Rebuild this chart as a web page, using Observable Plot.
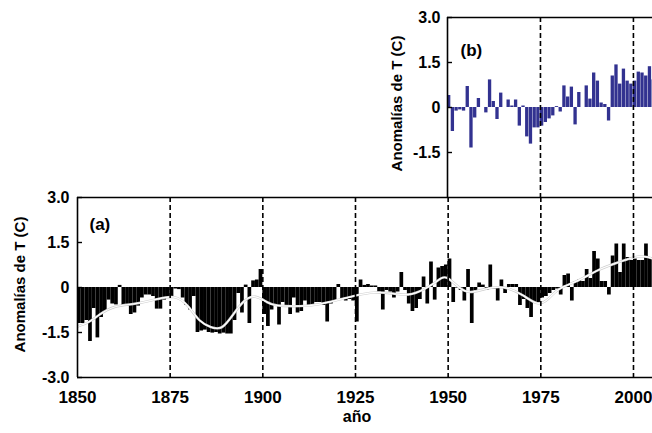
<!DOCTYPE html>
<html><head><meta charset="utf-8">
<script src="https://cdn.jsdelivr.net/npm/d3@7"></script>
<script src="https://cdn.jsdelivr.net/npm/@observablehq/plot@0.6"></script>
<style>
html,body{margin:0;padding:0;background:#fff;overflow:hidden;}
#chart{position:relative;width:652px;height:433px;}
#chart svg{position:absolute;left:0;top:0;}
</style></head><body><div id="chart"></div>
<script>
// Panel (a): annual anomalies 1850-2005
const startA = 1850;
const anomA = [
  -1.2, -1.2, -1.1, -1.8, -0.7, -1.68, -1.0, -0.8, -0.42, -0.55,
  -0.58, 0.07, -0.6, -0.62, -0.9, -0.85, -0.62, -0.35, -0.25, -0.25,
  -0.3, -0.72, -0.72, -0.42, -0.35, -0.3, -0.05, -0.07, -0.35, -0.6,
  -0.75, -0.3, -1.5, -1.45, -1.42, -1.5, -1.52, -1.5, -1.55, -1.52,
  -1.55, -1.55, -1.1, -0.2, -0.85, 0.08, -1.2, 0.22, 0.25, 0.6,
  -0.9, -1.3, -0.75, -0.6, -1.25, -0.5, -0.6, -0.9, -0.35, -0.85,
  -0.8, -0.45, -0.6, -0.6, -0.5, -0.5, -0.6, -1.15, -0.55, -0.45,
  0.1, -0.4, -0.45, -0.4, -0.45, -1.15, 0.25, 0.07, 0.1, 0.05,
  0.05, -0.15, -0.75, -0.1, -0.15, -0.35, -0.15, 0.5, -0.1, -0.55,
  -0.8, -0.7, -0.4, 0.35, -0.55, 0.85, -0.42, 0.65, 0.7, 0.75,
  0.95, -0.5, -0.02, -0.1, -0.45, 0.6, -1.2, -0.1, 0.15, 0.08,
  -0.1, 0.75, -0.05, -0.45, 0.25, -0.2, 0.1, 0.1, 0.1, -0.6,
  -0.4, -0.7, -1.0, -0.5, -0.5, -0.35, -0.3, -0.2, -0.1, -0.05,
  -0.25, 0.4, 0.45, -0.45, 0.2, 0.25, 0.2, 0.6, 0.3, 1.2,
  0.95, 0.2, 0.2, -0.25, 1.05, 1.45, 0.5, 1.45, 1.0, 0.9,
  0.95, 0.9, 0.9, 1.45, 1.0, 1.0
];
// Smoothed curve of panel (a), read at selected years
const smoothYears = [1850,1853,1856,1860,1865,1870,1876,1880,1883,1886,1889,1892,1895,1898,1901,1904,1910,1915,1920,1925,1930,1935,1940,1945,1948,1950,1953,1956,1960,1965,1970,1974,1977,1980,1985,1990,1995,2000,2003,2005];
const smoothVals  = [-1.3,-1.15,-0.9,-0.65,-0.55,-0.43,-0.32,-0.65,-1.1,-1.32,-1.32,-0.9,-0.45,-0.31,-0.48,-0.6,-0.62,-0.56,-0.42,-0.27,-0.17,-0.2,-0.22,0.05,0.3,0.3,0.0,-0.15,-0.05,0.0,-0.25,-0.52,-0.38,-0.05,0.23,0.55,0.8,1.0,1.03,0.97];
// Panel (b): annual anomalies 1950-2005
const startB = 1950;
const anomB = [
  0.4, -0.8, -0.12, -0.08, -0.12, 0.7, -1.35, -0.35, 0.3, 0.0,
  -0.18, 0.92, 0.2, -0.4, 0.48, 0.0, 0.25, 0.05, 0.25, -0.62,
  0.05, -0.98, -1.22, -0.68, -0.68, -0.62, -0.5, -0.38, -0.28, 0.03,
  -0.15, 0.72, 0.35, 0.68, -0.58, 0.5, 0.0, 0.72, 0.28, 1.15,
  0.88, 0.15, 0.1, -0.45, 1.05, 1.42, 0.78, 1.28, 0.88, 0.78,
  0.88, 1.18, 1.15, 1.05, 1.36, 0.92
];
const xTicks = [1850,1875,1900,1925,1950,1975,2000];
const dashYearsA = [1875,1900,1925,1950,1975,2000];
const dashYearsB = [1975,2000];
const yTicksA = [3,1.5,0,-1.5,-3];
const yTicksB = [3,1.5,0,-1.5];
const yLabel = "Anomalías de T (C)";
const xLabel = "año";
const panelA = "(a)";
const panelB = "(b)";

const dataA = anomA.map((v,i)=>({year:startA+i, value:v}));
const dataB = anomB.map((v,i)=>({year:startB+i, value:v}));
const smoothA = smoothYears.map((y,i)=>({year:y, value:smoothVals[i]}));

const xMax = 2005.13;
const fmt = d => d===0 ? "0" : (d<0?"-":"") + Math.abs(d).toFixed(1);
const font = "'Liberation Sans', Arial, Helvetica, sans-serif";

const plotA = Plot.plot({
  width:652, height:433, marginTop:197, marginBottom:56, marginLeft:77, marginRight:0,
  style:{fontFamily:font, fontWeight:"bold", fontSize:"16px", background:"white", color:"black"},
  x:{domain:[1850,xMax], label:null},
  y:{domain:[-3,3], label:null},
  marks:[
    Plot.rectY(dataA,{x1:"year", x2:d=>d.year+1, y1:0, y2:"value", fill:"black", clip:true}),
    Plot.line(smoothA,{x:"year", y:"value", curve:"natural", stroke:"#cfcfcf", strokeWidth:2.4, clip:true}),
    Plot.line(smoothA,{x:"year", y:"value", curve:"natural", stroke:"white", strokeWidth:1.2, clip:true}),
    Plot.ruleX(dashYearsA,{strokeDasharray:"5,3", strokeWidth:1.6}),
    Plot.ruleY([3,-3],{strokeWidth:1.6}),
    Plot.ruleX([1850],{strokeWidth:1.6}),
    Plot.axisX(xTicks,{tickSize:0, tickPadding:13, tickFormat:d=>String(d), fontSize:17, label:null}),
    Plot.axisY(yTicksA,{tickSize:0, tickPadding:8, tickFormat:fmt, fontSize:16, label:null}),
    Plot.axisY(yTicksA,{tickSize:5, dx:5, strokeWidth:1.4, tickFormat:()=>"", label:null}),
    Plot.text([yLabel],{text:d=>d, frameAnchor:"left", textAnchor:"middle", dx:-57, dy:-3, rotate:-90, fontSize:15}),
    Plot.text([xLabel],{text:d=>d, frameAnchor:"bottom", dx:-8, dy:44, fontSize:16}),
    Plot.text([panelA],{text:d=>d, frameAnchor:"top-left", dx:12, dy:20, textAnchor:"start", fontSize:17})
  ]
});

const plotB = Plot.plot({
  width:652, height:197, marginTop:17, marginBottom:0, marginLeft:447, marginRight:0,
  style:{fontFamily:font, fontWeight:"bold", fontSize:"16px", background:"transparent", color:"black"},
  x:{domain:[1950,xMax], label:null, axis:null},
  y:{domain:[-3,3], label:null},
  marks:[
    Plot.rectY(dataB,{x1:"year", x2:d=>d.year+1, y1:0, y2:"value", fill:"#323290", insetRight:0.4, clip:true}),
    Plot.ruleX(dashYearsB,{strokeDasharray:"5,3", strokeWidth:1.6}),
    Plot.ruleY([3],{strokeWidth:1.6}),
    Plot.ruleX([1950],{strokeWidth:1.6}),
    Plot.axisY(yTicksB,{tickSize:0, tickPadding:7, tickFormat:fmt, fontSize:16, label:null}),
    Plot.axisY(yTicksB,{tickSize:5, dx:5, strokeWidth:1.4, tickFormat:()=>"", label:null}),
    Plot.text([yLabel],{text:d=>d, frameAnchor:"left", textAnchor:"middle", dx:-50, dy:-4, rotate:-90, fontSize:15}),
    Plot.text([panelB],{text:d=>d, frameAnchor:"top-left", dx:13, dy:26, textAnchor:"start", fontSize:17})
  ]
});

const chart = document.getElementById("chart");
chart.appendChild(plotA);
chart.appendChild(plotB);
</script>
</body></html>
